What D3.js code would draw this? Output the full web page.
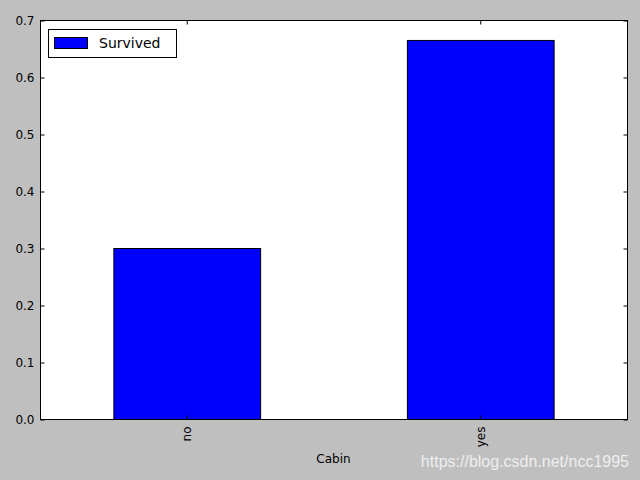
<!DOCTYPE html>
<html><head><meta charset="utf-8">
<script src="https://d3js.org/d3.v7.min.js"></script>
<style>body{margin:0;background:#bfbfbf;}svg{display:block;}</style>
</head><body>
<script>
const categories = ["no", "yes"];
const survived = [0.300, 0.665];
const yTicks = [0.0, 0.1, 0.2, 0.3, 0.4, 0.5, 0.6, 0.7];
const seriesName = "Survived";
const xLabel = "Cabin";
const watermark = "https://blog.csdn.net/ncc1995";

const W = 640, H = 480;
const m = {left: 40, right: 13, top: 20, bottom: 61};
const svg = d3.select("body").append("svg").attr("width", W).attr("height", H)
  .style("font-family", "DejaVu Sans, sans-serif");
svg.append("rect").attr("width", W).attr("height", H).attr("fill", "#bfbfbf");

const x = d3.scaleBand().domain(categories).range([m.left, W - m.right]).paddingInner(0.5).paddingOuter(0.25);
const y = d3.scaleLinear().domain([0, 0.7]).range([H - m.bottom, m.top]);

svg.append("rect").attr("x", m.left).attr("y", m.top)
  .attr("width", W - m.right - m.left).attr("height", H - m.bottom - m.top).attr("fill", "#fff");

svg.selectAll("rect.bar").data(categories).enter().append("rect").attr("class", "bar")
  .attr("x", d => x(d) + 0.5).attr("y", (d, i) => y(survived[i]) + 0.5)
  .attr("width", x.bandwidth()).attr("height", (d, i) => y(0) - y(survived[i]))
  .attr("fill", "#0000ff").attr("stroke", "#000").attr("stroke-width", 1);

// axes (ticks inside, classic style)
const yAxisL = d3.axisLeft(y).tickValues(yTicks).tickFormat(d3.format(".1f")).tickSizeInner(-4).tickSizeOuter(0).tickPadding(6);
const gL = svg.append("g").attr("transform", `translate(${m.left + 0.5},0.5)`).call(yAxisL);
const yAxisR = d3.axisRight(y).tickValues(yTicks).tickFormat("").tickSizeInner(-4).tickSizeOuter(0);
const gR = svg.append("g").attr("transform", `translate(${W - m.right + 0.5},0.5)`).call(yAxisR);
const xAxisB = d3.axisBottom(x).tickSizeInner(-4).tickSizeOuter(0).tickPadding(0);
const gB = svg.append("g").attr("transform", `translate(0.5,${H - m.bottom + 0.5})`).call(xAxisB);
const xAxisT = d3.axisTop(x).tickFormat("").tickSizeInner(-4).tickSizeOuter(0);
const gT = svg.append("g").attr("transform", `translate(0.5,${m.top + 0.5})`).call(xAxisT);
[gL, gR, gB, gT].forEach(g => { g.select(".domain").remove(); g.selectAll("line").attr("stroke", "#000"); });
gL.selectAll("text").attr("font-size", 12).attr("fill", "#000").attr("font-family", "DejaVu Sans, sans-serif");
gB.selectAll("text").attr("font-size", 12).attr("fill", "#000").attr("font-family", "DejaVu Sans, sans-serif")
  .attr("transform", "rotate(-90)").attr("text-anchor", "end").attr("dy", "0.35em").attr("x", -7).attr("y", 0);

// frame
svg.append("rect").attr("x", m.left + 0.5).attr("y", m.top + 0.5)
  .attr("width", W - m.right - m.left).attr("height", H - m.bottom - m.top)
  .attr("fill", "none").attr("stroke", "#000").attr("stroke-width", 1);

svg.append("text").attr("x", (m.left + W - m.right) / 2).attr("y", 463).attr("text-anchor", "middle")
  .attr("font-size", 12).text(xLabel);

// legend
const lg = svg.append("g");
lg.append("rect").attr("x", 48.5).attr("y", 29.5).attr("width", 128).attr("height", 28).attr("fill", "#fff").attr("stroke", "#000");
lg.append("rect").attr("x", 54.5).attr("y", 37.5).attr("width", 33).attr("height", 11).attr("fill", "#0000ff").attr("stroke", "#000");
lg.append("text").attr("x", 99).attr("y", 48).attr("font-size", 14).text(seriesName);

svg.append("text").attr("x", 629).attr("y", 467).attr("text-anchor", "end")
  .attr("font-family", "Liberation Sans, Arial, sans-serif").attr("font-size", 16)
  .attr("fill", "#fff").attr("fill-opacity", 0.75).text(watermark);
</script>
</body></html>
